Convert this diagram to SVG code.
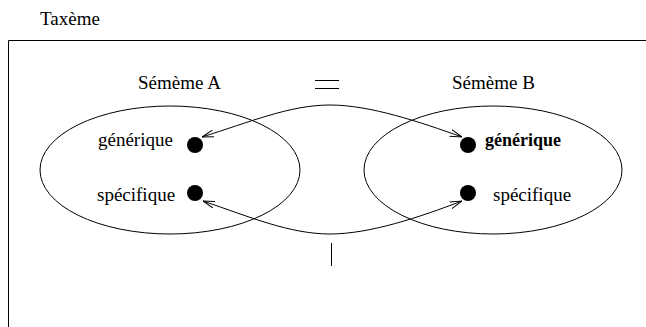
<svg xmlns="http://www.w3.org/2000/svg" width="646" height="327" viewBox="0 0 646 327">
<defs>
<style>
text{font-family:"Liberation Serif","Times New Roman",serif;font-size:19px;fill:#000}
.b{font-weight:bold;font-size:18px}
.ln{fill:none;stroke:#000;stroke-width:1}
.dot{fill:#000}
</style>
<marker id="ah" viewBox="0 0 12 8" refX="12" refY="4" markerWidth="12" markerHeight="8" markerUnits="userSpaceOnUse" orient="auto">
<path d="M0,0.5 L12,4 L0,7.5" fill="none" stroke="#000" stroke-width="1"/>
</marker>
</defs>
<rect width="646" height="327" fill="#fff"/>
<g id="taxeme">
<text x="40" y="25">Taxème</text>
<path class="ln" d="M8.5,327 V40.5 H646"/>
</g>
<g id="sememeA">
<ellipse class="ln" cx="170" cy="170" rx="130" ry="64"/>
<text x="138" y="89">Sémème A</text>
</g>
<g id="sememeB">
<ellipse class="ln" cx="493" cy="170" rx="129" ry="64"/>
<text x="452" y="89">Sémème B</text>
</g>
<g id="genA">
<circle class="dot" cx="195" cy="145" r="8"/>
<text x="98" y="146">générique</text>
</g>
<g id="specA">
<circle class="dot" cx="195" cy="193" r="8"/>
<text x="97" y="201">spécifique</text>
</g>
<g id="genB">
<circle class="dot" cx="468" cy="145" r="8"/>
<text class="b" x="485" y="146">générique</text>
</g>
<g id="specB">
<circle class="dot" cx="468" cy="193" r="8"/>
<text x="493" y="201">spécifique</text>
</g>
<g id="connectors">
<path class="ln" d="M330,105 C290,105 250,122 202,137" marker-end="url(#ah)"/>
<path class="ln" d="M330,105 C370,105 420,122 462,137" marker-end="url(#ah)"/>
<path class="ln" d="M330,234 C290,234 250,217 203,201" marker-end="url(#ah)"/>
<path class="ln" d="M330,234 C370,234 420,217 462,201" marker-end="url(#ah)"/>
<path class="ln" d="M315,80.5 H339 M315,88.5 H339"/>
<path class="ln" d="M331.5,243 V266"/>
</g>
</svg>
